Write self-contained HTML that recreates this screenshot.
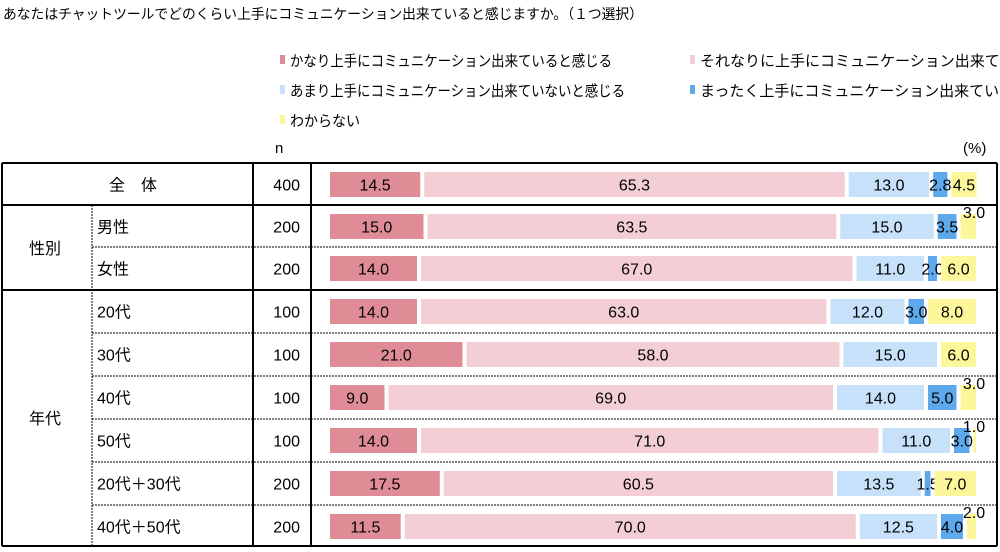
<!DOCTYPE html>
<html><head><meta charset="utf-8">
<style>
html,body{margin:0;padding:0;background:#fff;}
body{width:1000px;height:547px;overflow:hidden;font-family:"Liberation Sans","Noto Sans CJK JP",sans-serif;}
svg text{font-family:"Liberation Sans","Noto Sans CJK JP",sans-serif;}
</style></head>
<body>
<svg id="chart" width="1000" height="547" xmlns="http://www.w3.org/2000/svg">
<text x="3" y="19" font-size="14" textLength="640" lengthAdjust="spacingAndGlyphs">あなたはチャットツールでどのくらい上手にコミュニケーション出来ていると感じますか。（１つ選択）</text>
<g id="legend"></g>
<text x="275" y="153" font-size="15">n</text>
<text x="963" y="153" font-size="15">(%)</text>
<g id="table"></g>
<g id="bars"></g>
</svg>
<script>
const categories = ["全体","男性","女性","20代","30代","40代","50代","20代＋30代","40代＋50代"];
const nValues = [400,200,200,100,100,100,100,200,200];
const seriesNames = ["かなり上手にコミュニケーション出来ていると感じる","それなりに上手にコミュニケーション出来ていると感じる","あまり上手にコミュニケーション出来ていないと感じる","まったく上手にコミュニケーション出来ていないと感じる","わからない"];
const s1 = [14.5,15.0,14.0,14.0,21.0,9.0,14.0,17.5,11.5];
const s2 = [65.3,63.5,67.0,63.0,58.0,69.0,71.0,60.5,70.0];
const s3 = [13.0,15.0,11.0,12.0,15.0,14.0,11.0,13.5,12.5];
const s4 = [2.8,3.5,2.0,3.0,0,5.0,3.0,1.5,4.0];
const s5 = [4.5,3.0,6.0,8.0,6.0,3.0,1.0,7.0,2.0];
const colors = ["#e08c96","#f3cfd5","#c6e1f9","#5ea8ec","#fdf79c"];
const NS="http://www.w3.org/2000/svg";
function mk(tag,attrs,parent,txt){const e=document.createElementNS(NS,tag);for(const k in attrs)e.setAttribute(k,attrs[k]);if(txt!==undefined)e.textContent=txt;parent.appendChild(e);return e;}
const rowTop=[163,205,247,290,333,376,419,462,505];
const rowH=42.5;
const x0=330, x1=980;
const xs=v=>v*(x1-x0)/100;
const lg=document.getElementById('legend');
const legPos=[[280,66],[690,66],[280,96],[690,96],[280,126]];
const legW=[322,0,335,0,70];
seriesNames.forEach((nm,i)=>{
  const g=mk('g',{},lg);
  
  
  mk('rect',{x:legPos[i][0],y:legPos[i][1]-11,width:5,height:9,fill:colors[i]},g);
  const at={x:legPos[i][0]+10,y:legPos[i][1],'font-size':15};
  if(legW[i]){at.textLength=legW[i];at.lengthAdjust='spacingAndGlyphs';}
  mk('text',at,g,nm);
});
const tb=document.getElementById('table');
const L=2,R=997,B=546;
mk('line',{x1:L,y1:163,x2:R,y2:163,stroke:'#000','stroke-width':2},tb);
mk('line',{x1:L,y1:205,x2:R,y2:205,stroke:'#000','stroke-width':2},tb);
mk('line',{x1:92,y1:247,x2:R,y2:247,stroke:'#000','stroke-width':1,'stroke-dasharray':'2,1'},tb);
mk('line',{x1:L,y1:290,x2:R,y2:290,stroke:'#000','stroke-width':2},tb);
[333,376,419,462,505].forEach(y=>mk('line',{x1:92,y1:y,x2:R,y2:y,stroke:'#000','stroke-width':1,'stroke-dasharray':'2,1'},tb));
mk('line',{x1:L,y1:B,x2:R,y2:B,stroke:'#000','stroke-width':2},tb);
mk('line',{x1:L,y1:163,x2:L,y2:B,stroke:'#000','stroke-width':2},tb);
mk('line',{x1:R,y1:163,x2:R,y2:B,stroke:'#000','stroke-width':2},tb);
mk('line',{x1:253,y1:163,x2:253,y2:B,stroke:'#000','stroke-width':2},tb);
mk('line',{x1:311,y1:163,x2:311,y2:B,stroke:'#000','stroke-width':2},tb);
mk('line',{x1:92,y1:205,x2:92,y2:B,stroke:'#000','stroke-width':1,'stroke-dasharray':'2,1'},tb);
mk('text',{x:45,y:254,'font-size':16,'text-anchor':'middle'},tb,'性別');
mk('text',{x:45,y:424,'font-size':16,'text-anchor':'middle'},tb,'年代');
const bg=document.getElementById('bars');
const series=[s1,s2,s3,s4,s5];
categories.forEach((c,i)=>{
  const ty=rowTop[i]+rowH/2+6;
  const lab=mk('text',{x:i===0?133:97,y:ty,'font-size':16,'text-anchor':i===0?'middle':'start'},bg,i===0?'全　体':c);
  
  
  const nt=mk('text',{x:300,y:ty,'font-size':16,'text-anchor':'end'},bg,String(nValues[i]));
  
  
  let cx=x0;
  const by=rowTop[i]+9, bh=25;
  series.forEach((s,j)=>{
    const v=s[i];
    const w=xs(v);
    if(v>0){
      const r=mk('rect',{x:cx,y:by,width:Math.max(w-4,1),height:bh,fill:colors[j]},bg);
      
      
      const above=(j===4&&v<=3);
      const tx=above?cx+w-6:cx+(w-4)/2;
      const t=mk('text',{x:tx,y:above?by+4:by+bh/2+6,'font-size':16,'text-anchor':'middle'},bg,v.toFixed(1));
      
      
    }
    cx+=w;
  });
});
</script>
</body></html>
